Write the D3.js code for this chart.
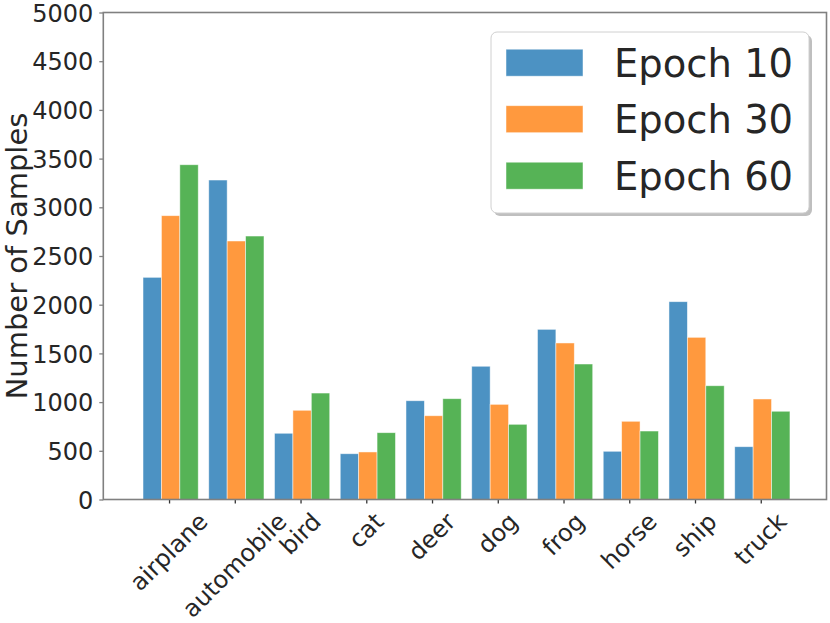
<!DOCTYPE html>
<html>
<head>
<meta charset="utf-8">
<script src="https://cdn.jsdelivr.net/npm/d3@7/dist/d3.min.js"></script>
<style>
  html, body { margin: 0; padding: 0; background: #fff; }
  text { font-family: "DejaVu Sans", sans-serif; fill: #262626; }
</style>
</head>
<body>
<svg id="chart" width="830" height="623"></svg>
<script>
const categories = ["airplane", "automobile", "bird", "cat", "deer", "dog", "frog", "horse", "ship", "truck"];
const seriesNames = ["Epoch 10", "Epoch 30", "Epoch 60"];
const epoch10 = [2281, 3280, 680, 470, 1014, 1368, 1747, 495, 2031, 542];
const epoch30 = [2914, 2654, 916, 488, 860, 977, 1607, 803, 1665, 1032];
const epoch60 = [3437, 2705, 1093, 686, 1035, 772, 1391, 703, 1168, 906];
const yTicks = [0, 500, 1000, 1500, 2000, 2500, 3000, 3500, 4000, 4500, 5000];
const colors = ["#4c92c3", "#ff993e", "#56b356"];

const series = [epoch10, epoch30, epoch60];
const svg = d3.select("#chart");
const L = 103.3, R = 826.5, T = 12.5, B = 499.5;

const x = d3.scaleLinear().domain([-1, 10]).range([L, R]);
const y = d3.scaleLinear().domain([0, 5000]).range([B, T]);
const barW = 0.28;
const offsets = [-0.256, 0.024, 0.304];

// bars
series.forEach((vals, s) => {
  svg.append("g").selectAll("rect").data(vals).join("rect")
    .attr("x", (d, i) => x(i + offsets[s] - barW / 2))
    .attr("width", x(barW) - x(0))
    .attr("y", d => y(d))
    .attr("height", d => y(0) - y(d))
    .attr("fill", colors[s])
    .attr("stroke", "#ffffff")
    .attr("stroke-opacity", 0.6)
    .attr("stroke-width", 0.8);
});

// y axis
const yAxis = d3.axisLeft(y).tickValues(yTicks).tickSize(4).tickPadding(6).tickFormat(d3.format("d"));
const yg = svg.append("g").attr("transform", `translate(${L},0)`).call(yAxis);
yg.select(".domain").remove();
yg.selectAll(".tick line").attr("stroke", "#808080").attr("stroke-width", 1.3);
yg.selectAll(".tick text").style("font-family", "DejaVu Sans").style("font-size", "24px").attr("fill", "#262626").attr("dy", "0.36em");

// x axis
const xAxis = d3.axisBottom(x).tickValues(d3.range(categories.length)).tickSize(4).tickFormat("");
const xg = svg.append("g").attr("transform", `translate(0,${B})`).call(xAxis);
xg.select(".domain").remove();
xg.selectAll(".tick line").attr("stroke", "#333").attr("stroke-width", 1.3);

// x labels rotated 45, bbox centered on tick
const lg = svg.append("g");
categories.forEach((c, i) => {
  const t = lg.append("text").text(c)
    .style("font-size", "24px")
    .attr("text-anchor", "middle")
    .attr("dy", "0.33em");
  const w = t.node().getComputedTextLength();
  const cy = 508 + (w + 27) * 0.3535;
  t.attr("transform", `translate(${x(i)},${cy}) rotate(-45)`);
});

// spines
svg.append("rect").attr("x", L).attr("y", T).attr("width", R - L).attr("height", B - T)
  .attr("fill", "none").attr("stroke", "#808080").attr("stroke-width", 1.6);

// y label
svg.append("text").text("Number of Samples")
  .attr("transform", `translate(17,${(T + B) / 2}) rotate(-90)`)
  .attr("text-anchor", "middle").attr("dy", "0.36em")
  .style("font-size", "29px");

// legend
const leg = svg.append("g");
const lx = 491, ly = 32, lw = 318, lh = 181;
leg.append("rect").attr("x", lx + 3).attr("y", ly + 3).attr("width", lw).attr("height", lh)
  .attr("rx", 6).attr("fill", "#808080").attr("fill-opacity", 0.5);
leg.append("rect").attr("x", lx).attr("y", ly).attr("width", lw).attr("height", lh)
  .attr("rx", 6).attr("fill", "#ffffff").attr("stroke", "#d0d0d0").attr("stroke-width", 1);
const rowY = d3.scaleLinear().domain([0, 2]).range([62.7, 175.7]);
seriesNames.forEach((n, s) => {
  leg.append("rect").attr("x", 506).attr("y", rowY(s) - 13.5).attr("width", 77).attr("height", 27)
    .attr("fill", colors[s]).attr("stroke", "#fff").attr("stroke-opacity", 0.6).attr("stroke-width", 0.8);
  leg.append("text").text(n).attr("x", 614).attr("y", rowY(s)).attr("dy", "0.36em")
    .style("font-size", "38.5px");
});
</script>
</body>
</html>
